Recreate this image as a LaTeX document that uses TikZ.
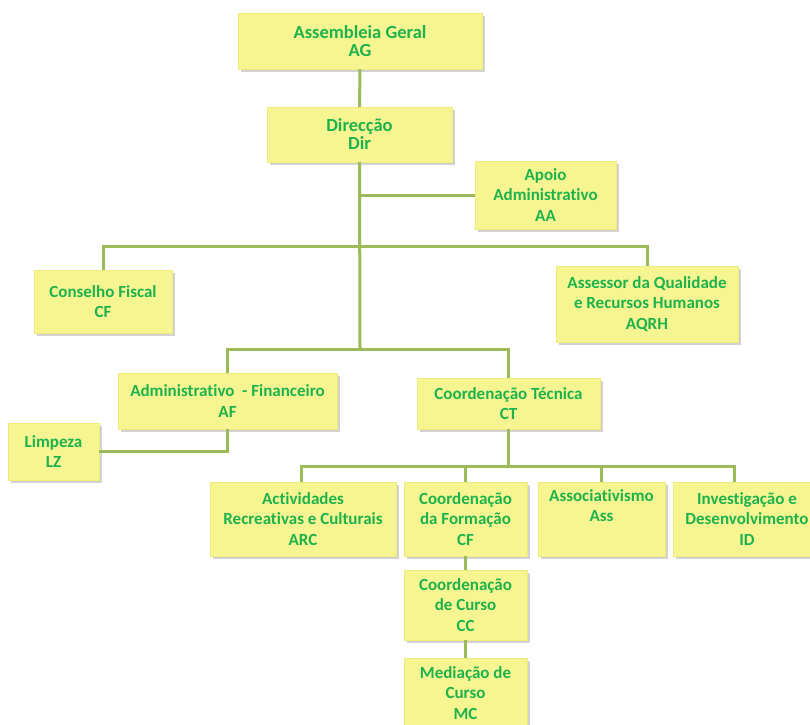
\documentclass[tikz,border=0pt]{standalone}
\usepackage{fontspec}
\setmainfont[Ligatures={NoCommon,NoContextual},Contextuals=NoAlternate]{Carlito}
\usepackage{xcolor}
\usetikzlibrary{shapes,shadows,positioning}

\definecolor{boxyellow}{RGB}{246,245,146}
\definecolor{boxedge}{RGB}{238,236,120}
\definecolor{textgreen}{RGB}{30,178,76}
\definecolor{linegreen}{RGB}{155,187,89}

\begin{document}
\begin{tikzpicture}[
    x=1pt, y=-1pt,
    unit/.style={rectangle,fill=boxyellow,draw=boxedge,text=textgreen,align=center,inner sep=2pt,
        font=\fontsize{17}{20.5}\selectfont\bfseries,
        drop shadow={shadow xshift=2.5pt,shadow yshift=-2.5pt,fill=black!35,opacity=.5}},
    head/.style={unit,font=\fontsize{18.5}{18}\selectfont\bfseries},
    link/.style={draw=linegreen,line width=3pt}
]
\useasboundingbox (0,0) rectangle (810,724);

% Top of the structure
\node[head, minimum width=244pt, minimum height=56pt] (ag) at (360,41) {Assembleia Geral\\AG};
\node[head, minimum width=185pt, minimum height=55pt] (dir) at (359.5,134.5) {Direcção\\Dir};
\node[unit, minimum width=141pt, minimum height=68pt] (aa) at (545.5,195) {Apoio\\Administrativo\\AA};
\node[unit, minimum width=138pt, minimum height=63pt] (cf) at (103,301.5) {Conselho Fiscal\\CF};
\node[unit, minimum width=182pt, minimum height=76pt] (aqrh) at (647,304) {Assessor da Qualidade\\e Recursos Humanos\\AQRH};

% Second level
\node[unit, minimum width=219pt, minimum height=56pt] (af) at (227.5,401) {Administrativo \ - Financeiro\\AF};
\node[unit, minimum width=183pt, minimum height=51pt] (ct) at (508.5,403.5) {Coordenação Técnica\\CT};
\node[unit, minimum width=91pt, minimum height=57pt] (lz) at (53.5,451.5) {Limpeza\\LZ};

% Technical coordination
\node[unit, minimum width=186pt, minimum height=74pt] (arc) at (303,519) {Actividades\\Recreativas e Culturais\\ARC};
\node[unit, minimum width=123pt, minimum height=74pt] (cfo) at (465.5,519) {Coordenação\\da Formação\\CF};
\node[unit, minimum width=127pt, minimum height=74pt] (ass) at (601.5,519) {Associativismo\\Ass\\ \strut};
\node[unit, minimum width=148pt, minimum height=74pt] (id) at (747,519) {Investigação e\\Desenvolvimento\\ID};
\node[unit, minimum width=123pt, minimum height=70pt] (cc) at (465.5,605) {Coordenação\\de Curso\\CC};
\node[unit, minimum width=123pt, minimum height=70pt] (mc) at (465.5,693) {Mediação de\\Curso\\MC};

% Bus points
\coordinate (bus1) at (360,246);
\coordinate (bus2) at (360,349);
\coordinate (bus3) at (508.5,466);

% Links
\draw[link] (ag) -- (dir);
\draw[link] (dir.south) -- (bus2);
\draw[link] (dir.south |- aa.west) -- (aa.west);
\draw[link] (cf.north) |- (bus1) -| (aqrh.north);
\draw[link] (af.north) |- (bus2) -| (ct.north);
\draw[link] (af.south) |- (lz.east);
\draw[link] (ct.south) -- (bus3);
\draw[link] ([xshift=-2pt]arc.north) |- (bus3) -| ([xshift=-13pt]id.north);
\draw[link] (cfo.north) -- (cfo.north |- bus3);
\draw[link] (ass.north) -- (ass.north |- bus3);
\draw[link] (cfo) -- (cc);
\draw[link] (cc) -- (mc);

\end{tikzpicture}
\end{document}
